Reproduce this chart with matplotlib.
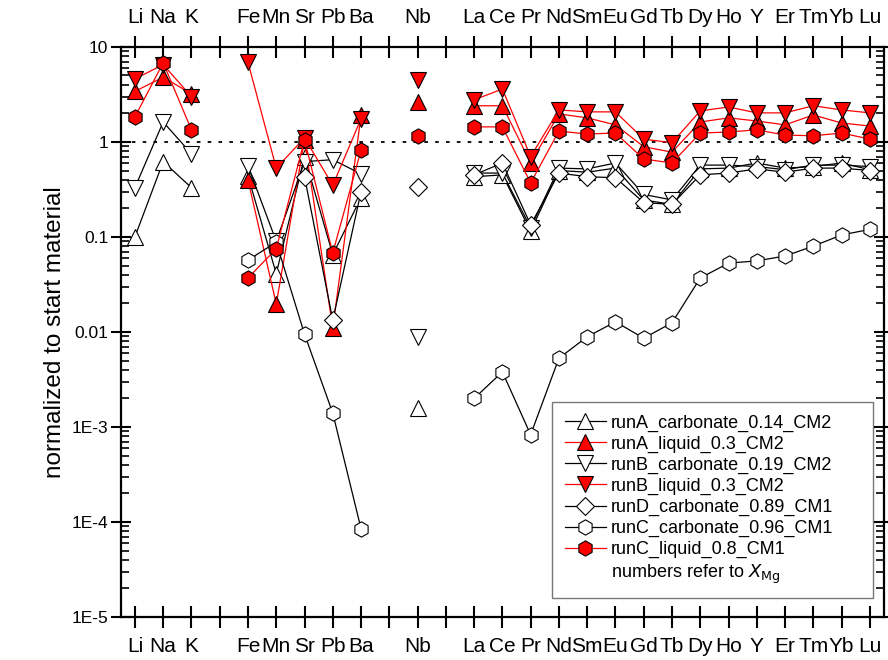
#------------------------------------------------------------
# import
import matplotlib
matplotlib.use("Agg")
import matplotlib.pyplot as plt
import numpy as np
from matplotlib.ticker import FixedLocator, FixedFormatter, LogLocator, NullFormatter

#------------------------------------------------------------
# data  (nan = no value / gap)
nan = np.nan
elements = ["Li", "Na", "K", "", "Fe", "Mn", "Sr", "Pb", "Ba", "", "Nb", "",
            "La", "Ce", "Pr", "Nd", "Sm", "Eu", "Gd", "Tb", "Dy", "Ho", "Y",
            "Er", "Tm", "Yb", "Lu"]

runA_carbonate = [0.1, 0.62, 0.33, nan, 0.44, 0.041, 0.7, 0.065, 0.26, nan, 0.0016, nan,
                  0.43, 0.45, 0.115, 0.5, 0.48, 0.53, 0.245, 0.22, 0.52, 0.53, 0.6,
                  0.53, 0.55, 0.6, 0.51]
runA_liquid = [3.4, 4.8, 3.2, nan, 0.4, 0.0197, 1.05, 0.011, 1.9, nan, 2.64, nan,
               2.4, 2.4, 0.6, 1.97, 1.79, 1.51, 0.89, 0.78, 1.62, 1.79, 1.66,
               1.51, 1.92, 1.58, 1.47]
runB_carbonate = [0.33, 1.62, 0.75, nan, 0.56, 0.09, 0.62, 0.65, 0.46, nan, 0.0089, nan,
                  0.47, 0.47, 0.125, 0.53, 0.52, 0.6, 0.28, 0.245, 0.57, 0.57, 0.55,
                  0.51, 0.57, 0.57, 0.55]
runB_liquid = [4.6, 6.5, 3.0, nan, 6.9, 0.53, 1.1, 0.35, 1.75, nan, 4.5, nan,
               2.77, 3.6, 0.7, 2.17, 2.07, 2.07, 1.07, 0.98, 2.12, 2.33, 2.02,
               2.02, 2.4, 2.17, 2.02]
runD_carbonate = [nan, nan, nan, nan, nan, nan, 0.43, 0.0133, 0.3, nan, 0.336, nan,
                  0.45, 0.6, 0.134, 0.47, 0.43, 0.42, 0.23, 0.22, 0.45, 0.47, 0.52,
                  0.48, 0.53, 0.53, 0.5]
runC_carbonate = [nan, nan, nan, nan, 0.057, 0.088, 0.0095, 0.0014, 8.5e-5, nan, nan, nan,
                  0.002, 0.0038, 8.3e-4, 0.0053, 0.0089, 0.0128, 0.0086, 0.0125, 0.037,
                  0.053, 0.056, 0.063, 0.08, 0.105, 0.12]
runC_liquid = [1.83, 6.8, 1.34, nan, 0.037, 0.075, 1.05, 0.068, 0.82, nan, 1.16, nan,
               1.44, 1.44, 0.37, 1.3, 1.21, 1.24, 0.66, 0.6, 1.24, 1.27, 1.34,
               1.18, 1.16, 1.24, 1.07]

y_tick_values = [1e-5, 1e-4, 1e-3, 0.01, 0.1, 1, 10]
y_tick_labels = ["1E-5", "1E-4", "1E-3", "0.01", "0.1", "1", "10"]

#------------------------------------------------------------
# plot
plt.rcParams["font.family"] = ["Liberation Sans", "DejaVu Sans"]

fig = plt.figure(figsize=(8.88, 6.6), dpi=100)
ax = fig.add_axes([0.136, 0.065, 0.8595, 0.864])

x = np.arange(len(elements))

# (data, label, marker, fill, line colour, marker size)
series = [
    (runA_carbonate, "runA_carbonate_0.14_CM2", "^", "white", "black", 12),
    (runA_liquid, "runA_liquid_0.3_CM2", "^", "red", "red", 12),
    (runB_carbonate, "runB_carbonate_0.19_CM2", "v", "white", "black", 12),
    (runB_liquid, "runB_liquid_0.3_CM2", "v", "red", "red", 12),
    (runD_carbonate, "runD_carbonate_0.89_CM1", "D", "white", "black", 9),
    (runC_carbonate, "runC_carbonate_0.96_CM1", "h", "white", "black", 11),
    (runC_liquid, "runC_liquid_0.8_CM1", "h", "red", "red", 11),
]

for vals, label, mk, fc, lc, ms in series:
    ax.plot(x, vals, color=lc, lw=0.9, marker=mk, markersize=ms,
            markerfacecolor=fc, markeredgecolor="black", markeredgewidth=0.8,
            label=label)

# 1 のライン
ax.axhline(1, color="black", lw=1.3, linestyle=(0, (2, 4)), zorder=0)

# 軸
ax.set_yscale("log")
ax.set_ylim(1e-5, 10)
ax.set_xlim(-0.5, 26.5)

ax.set_xticks(x)
ax.set_xticklabels(elements)
ax.tick_params(axis="x", which="major", direction="inout", length=16, width=1.5,
               top=True, labeltop=True, labelsize=15, pad=6.5)

ax.yaxis.set_major_locator(FixedLocator(y_tick_values))
ax.yaxis.set_major_formatter(FixedFormatter(y_tick_labels))
ax.yaxis.set_minor_locator(LogLocator(base=10, subs=np.arange(2, 10)))
ax.yaxis.set_minor_formatter(NullFormatter())
ax.tick_params(axis="y", which="major", direction="inout", length=14, width=1.5,
               right=True, labelsize=12.5, pad=2)
ax.tick_params(axis="y", which="minor", direction="in", length=6, width=1.2,
               right=True)

for sp in ax.spines.values():
    sp.set_linewidth(1.6)

ax.set_ylabel("normalized to start material", fontsize=17.5, labelpad=4)

# 凡例 (最後の行はテキストのみ)
handles, labels = ax.get_legend_handles_labels()
extra, = ax.plot([], [], linestyle="none", marker="none")
handles.append(extra)
labels.append(r"numbers refer to $X_{\mathrm{Mg}}$")
leg = ax.legend(handles, labels, loc="lower left",
                bbox_to_anchor=(0.565, 0.033, 0.4207, 0.1), mode="expand",
                fontsize=13, frameon=True, fancybox=False, edgecolor="#555555",
                handlelength=2.3, handletextpad=0.28, labelspacing=0.22,
                borderpad=0.7, borderaxespad=0)
leg.get_frame().set_linewidth(1.0)

fig.savefig("out.png", dpi=100)
